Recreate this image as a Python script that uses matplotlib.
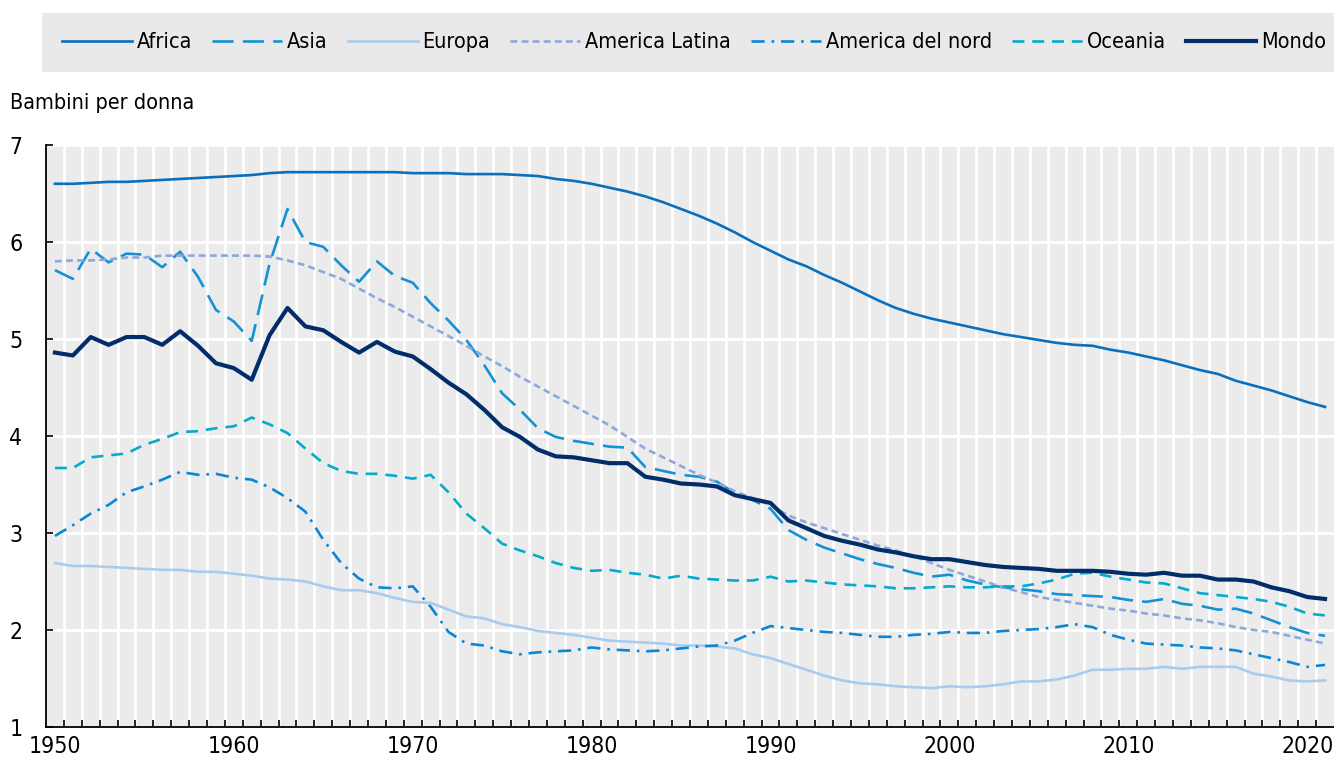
import matplotlib
matplotlib.use("Agg")
import matplotlib.pyplot as plt
from matplotlib import font_manager as fm
from matplotlib.patches import Rectangle
from matplotlib.ticker import FixedLocator

# the original uses a narrow sans (Arial Narrow-like); take one if it is installed
fs_tick, fs_text = 15.5, 15
plt.rcParams["font.family"] = ["Liberation Sans", "DejaVu Sans"]
for f in fm.fontManager.ttflist:
    fn = f.fname.lower()
    if ("narrow" in fn or "condensed" in fn) and f.weight in (400, "normal", "regular") \
            and f.style == "normal" and "semi" not in fn and "extra" not in fn:
        plt.rcParams["font.family"] = [f.name, "DejaVu Sans"]
        plt.rcParams["font.stretch"] = f.stretch
        fs_tick, fs_text = 16.5, 15.5
        break

# fertility rate (children per woman), 1950-2021
years = list(range(1950, 2022))

africa = [6.60, 6.60, 6.61, 6.62, 6.62, 6.63, 6.64, 6.65, 6.66, 6.67,
          6.68, 6.69, 6.71, 6.72, 6.72, 6.72, 6.72, 6.72, 6.72, 6.72,
          6.71, 6.71, 6.71, 6.70, 6.70, 6.70, 6.69, 6.68, 6.65, 6.63,
          6.60, 6.56, 6.52, 6.47, 6.41, 6.34, 6.27, 6.19, 6.10, 6.00,
          5.91, 5.82, 5.75, 5.66, 5.58, 5.49, 5.40, 5.32, 5.26, 5.21,
          5.17, 5.13, 5.09, 5.05, 5.02, 4.99, 4.96, 4.94, 4.93, 4.89,
          4.86, 4.82, 4.78, 4.73, 4.68, 4.64, 4.57, 4.52, 4.47, 4.41,
          4.35, 4.30]

asia = [5.71, 5.62, 5.93, 5.79, 5.88, 5.87, 5.74, 5.90, 5.64, 5.30,
        5.18, 4.98, 5.78, 6.34, 6.00, 5.95, 5.76, 5.59, 5.80, 5.65,
        5.58, 5.37, 5.19, 4.99, 4.73, 4.44, 4.27, 4.08, 3.99, 3.95,
        3.92, 3.89, 3.88, 3.68, 3.64, 3.60, 3.58, 3.53, 3.41, 3.34,
        3.25, 3.03, 2.93, 2.85, 2.79, 2.73, 2.68, 2.64, 2.59, 2.55,
        2.57, 2.51, 2.47, 2.44, 2.42, 2.40, 2.37, 2.36, 2.35, 2.34,
        2.31, 2.29, 2.32, 2.27, 2.25, 2.21, 2.22, 2.17, 2.10, 2.03,
        1.97, 1.94]

europa = [2.69, 2.66, 2.66, 2.65, 2.64, 2.63, 2.62, 2.62, 2.60, 2.60,
          2.58, 2.56, 2.53, 2.52, 2.50, 2.45, 2.41, 2.41, 2.38, 2.33,
          2.29, 2.28, 2.21, 2.14, 2.12, 2.06, 2.03, 1.99, 1.97, 1.95,
          1.92, 1.89, 1.88, 1.87, 1.86, 1.84, 1.84, 1.83, 1.81, 1.75,
          1.71, 1.65, 1.59, 1.53, 1.48, 1.45, 1.44, 1.42, 1.41, 1.40,
          1.42, 1.41, 1.42, 1.44, 1.47, 1.47, 1.49, 1.53, 1.59, 1.59,
          1.60, 1.60, 1.62, 1.60, 1.62, 1.62, 1.62, 1.55, 1.52, 1.48,
          1.47, 1.48]

america_latina = [5.80, 5.81, 5.81, 5.82, 5.84, 5.84, 5.86, 5.86, 5.86, 5.86,
                  5.86, 5.86, 5.85, 5.81, 5.76, 5.69, 5.62, 5.52, 5.42, 5.33,
                  5.23, 5.13, 5.03, 4.93, 4.82, 4.72, 4.61, 4.51, 4.41, 4.31,
                  4.21, 4.11, 3.99, 3.87, 3.78, 3.69, 3.60, 3.52, 3.43, 3.36,
                  3.29, 3.18, 3.11, 3.05, 2.99, 2.93, 2.87, 2.82, 2.76, 2.69,
                  2.62, 2.56, 2.50, 2.44, 2.39, 2.34, 2.31, 2.28, 2.25, 2.22,
                  2.20, 2.17, 2.15, 2.12, 2.10, 2.07, 2.03, 2.00, 1.98, 1.94,
                  1.90, 1.86]

america_nord = [2.97, 3.08, 3.20, 3.29, 3.42, 3.48, 3.55, 3.63, 3.60, 3.61,
                3.57, 3.55, 3.47, 3.36, 3.22, 2.93, 2.69, 2.53, 2.44, 2.43,
                2.45, 2.24, 1.98, 1.86, 1.84, 1.78, 1.75, 1.77, 1.78, 1.79,
                1.82, 1.80, 1.79, 1.78, 1.79, 1.81, 1.83, 1.84, 1.89, 1.97,
                2.04, 2.02, 2.00, 1.98, 1.97, 1.95, 1.93, 1.93, 1.95, 1.96,
                1.98, 1.97, 1.97, 1.99, 2.00, 2.01, 2.03, 2.06, 2.03, 1.95,
                1.90, 1.86, 1.85, 1.84, 1.82, 1.81, 1.79, 1.75, 1.71, 1.67,
                1.62, 1.64]

oceania = [3.67, 3.67, 3.78, 3.80, 3.82, 3.91, 3.97, 4.04, 4.05, 4.08,
           4.10, 4.19, 4.12, 4.03, 3.87, 3.72, 3.64, 3.61, 3.61, 3.59,
           3.56, 3.60, 3.42, 3.20, 3.05, 2.89, 2.82, 2.76, 2.69, 2.64,
           2.61, 2.62, 2.59, 2.57, 2.53, 2.56, 2.53, 2.52, 2.51, 2.51,
           2.55, 2.50, 2.51, 2.49, 2.47, 2.46, 2.45, 2.43, 2.43, 2.44,
           2.45, 2.44, 2.44, 2.45, 2.45, 2.48, 2.52, 2.58, 2.59, 2.55,
           2.52, 2.49, 2.48, 2.43, 2.38, 2.36, 2.34, 2.32, 2.29, 2.24,
           2.17, 2.15]

mondo = [4.86, 4.83, 5.02, 4.94, 5.02, 5.02, 4.94, 5.08, 4.93, 4.75,
         4.70, 4.58, 5.04, 5.32, 5.13, 5.09, 4.97, 4.86, 4.97, 4.87,
         4.82, 4.69, 4.55, 4.43, 4.27, 4.09, 3.99, 3.86, 3.79, 3.78,
         3.75, 3.72, 3.72, 3.58, 3.55, 3.51, 3.50, 3.48, 3.39, 3.35,
         3.31, 3.13, 3.05, 2.97, 2.92, 2.88, 2.83, 2.80, 2.76, 2.73,
         2.73, 2.70, 2.67, 2.65, 2.64, 2.63, 2.61, 2.61, 2.61, 2.60,
         2.58, 2.57, 2.59, 2.56, 2.56, 2.52, 2.52, 2.50, 2.44, 2.40,
         2.34, 2.32]

fig = plt.figure(figsize=(13.34, 7.62), dpi=100)
ax = fig.add_axes([46 / 1334, 35 / 762, 1288 / 1334, 582 / 762])
ax.set_facecolor("#ebebeb")

lw = 1.9
ax.plot(years, africa, color="#0a6fbd", lw=lw, label="Africa")
ax.plot(years, asia, color="#1592d6", lw=lw, ls=(0, (8, 3.5)), label="Asia")
ax.plot(years, europa, color="#a8ccef", lw=lw, label="Europa")
ax.plot(years, america_latina, color="#8ea7dc", lw=lw, ls=(0, (2.6, 1.6)), label="America Latina")
ax.plot(years, america_nord, color="#0b86d3", lw=lw, ls=(0, (5, 2.6, 1, 2.6)), label="America del nord")
ax.plot(years, oceania, color="#05abcd", lw=lw, ls=(0, (4.5, 3)), label="Oceania")
ax.plot(years, mondo, color="#022d6b", lw=3.0, label="Mondo")

ax.set_xlim(1949.5, 2021.5)
ax.set_ylim(1, 7)

# white grid, vertical lines between the years
ax.set_yticks([1, 2, 3, 4, 5, 6, 7])
ax.set_xticks([1950, 1960, 1970, 1980, 1990, 2000, 2010, 2020])
ax.xaxis.set_minor_locator(FixedLocator([1950] + [y + 0.5 for y in years[:-1]]))
ax.grid(True, which="major", axis="y", color="white", lw=2)
ax.grid(True, which="minor", axis="x", color="white", lw=2)
ax.set_axisbelow(True)

for s in ["top", "right"]:
    ax.spines[s].set_visible(False)
for s in ["left", "bottom"]:
    ax.spines[s].set_color("black")
    ax.spines[s].set_linewidth(1.3)

ax.tick_params(axis="x", which="major", length=0, labelsize=fs_tick, pad=6)
ax.tick_params(axis="x", which="minor", direction="in", length=5, width=1.2, color="black")
ax.tick_params(axis="y", direction="in", length=5, width=1.2, labelsize=fs_tick, pad=17)

fig.text(10 / 1334, 1 - 103 / 762, "Bambini per donna", fontsize=fs_text, va="center", ha="left")

# legend in a grey band at the top
fig.patches.append(Rectangle((42 / 1334, 1 - 72 / 762), 1292 / 1334, 59 / 762,
                             transform=fig.transFigure, facecolor="#e9e9e9",
                             edgecolor="none", zorder=0))
em = fs_text * 100 / 72
fig.legend(loc="center", bbox_to_anchor=(694 / 1334, 1 - 42.5 / 762), ncol=7,
           frameon=False, fontsize=fs_text, handlelength=70 / em, handletextpad=5 / em,
           columnspacing=20 / em)

fig.savefig("out.png", dpi=100)
